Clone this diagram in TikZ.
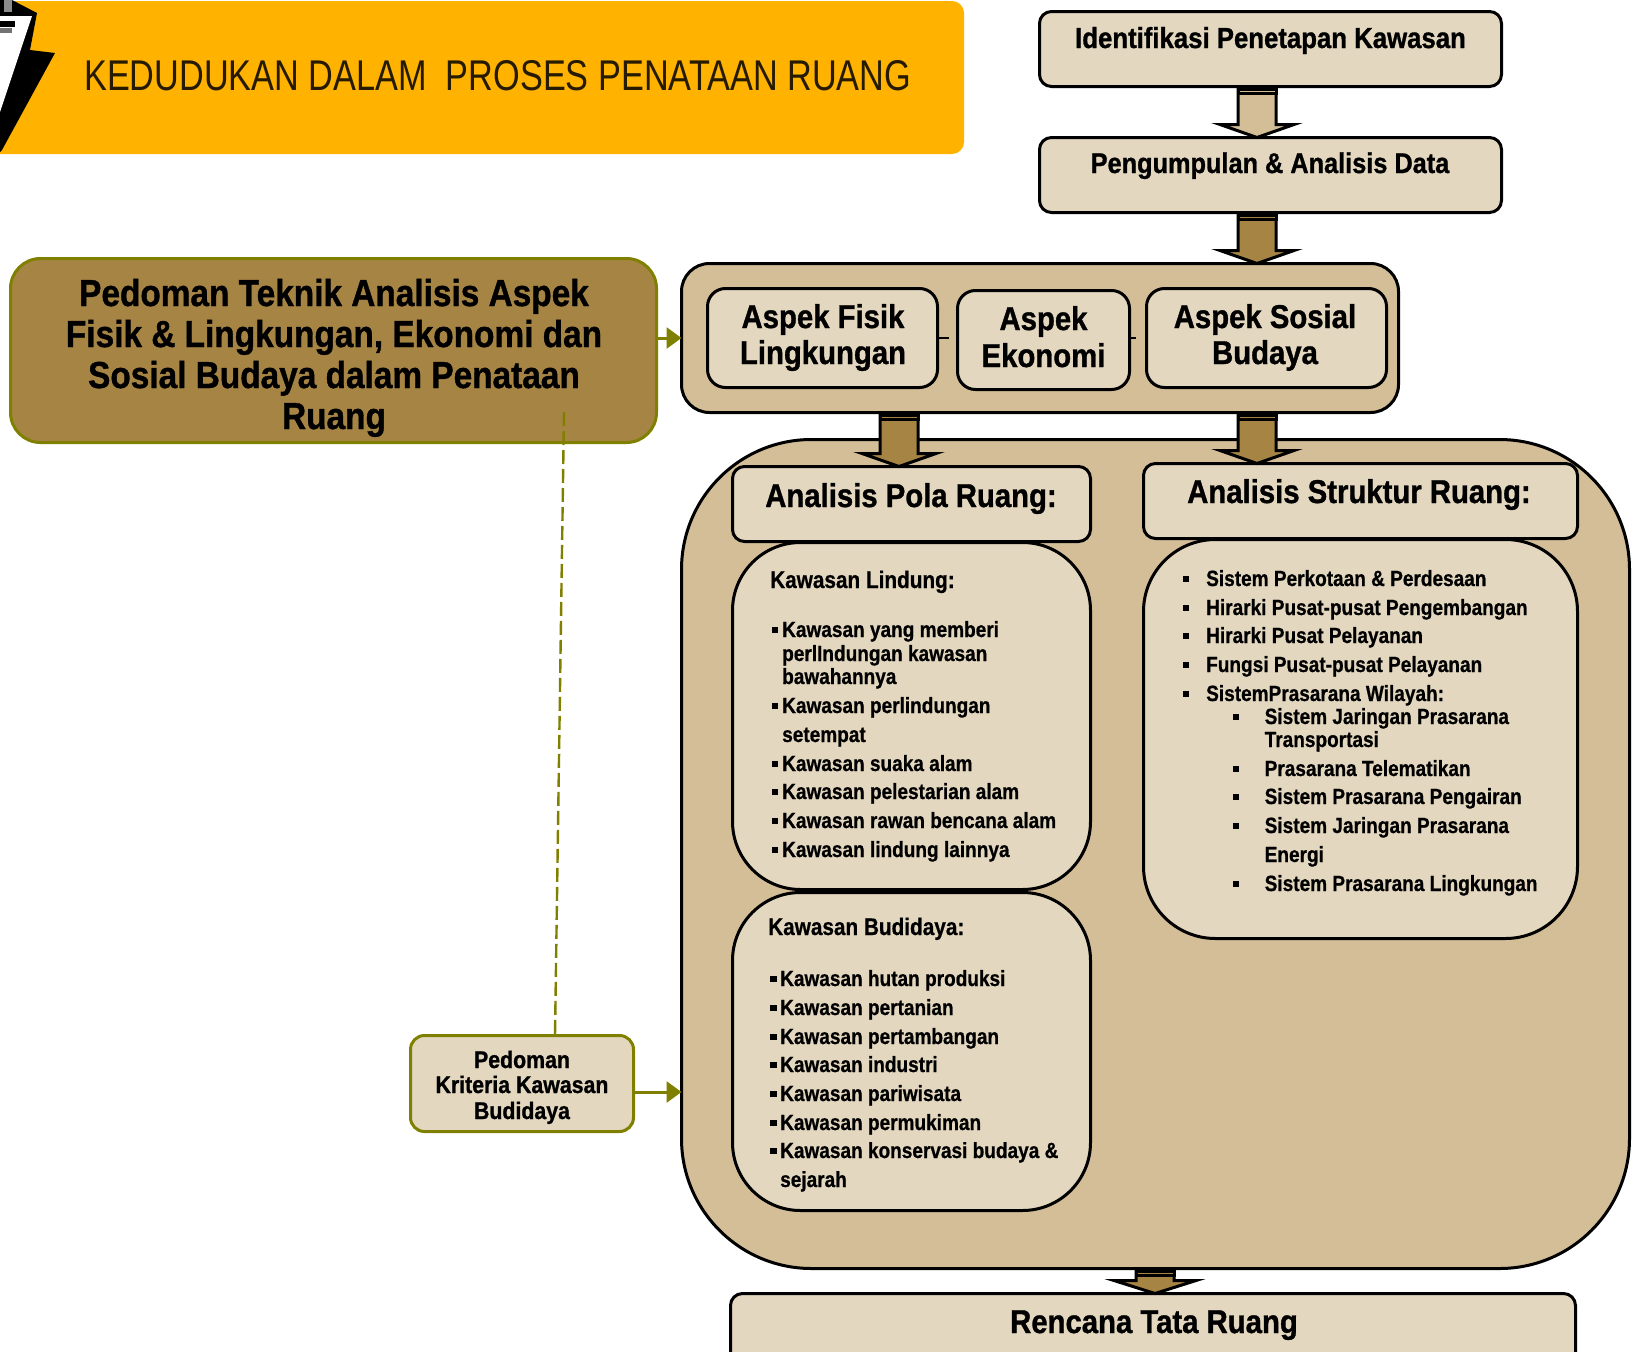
\documentclass[tikz,border=0pt]{standalone}
\usepackage{fontspec}
\usetikzlibrary{arrows.meta,calc}
\newfontfamily\hvy[FakeStretch=0.888,FakeBold=1.0]{Liberation Sans Bold}
\newfontfamily\lst[FakeStretch=0.865,FakeBold=0.7]{Liberation Sans Bold}
\newfontfamily\thn[FakeStretch=0.797]{Liberation Sans}
\definecolor{tanfill}{HTML}{D4BE98}
\definecolor{paper}{HTML}{E3D7BF}
\definecolor{brownfill}{HTML}{A68444}
\definecolor{olive}{HTML}{808000}
\definecolor{amber}{HTML}{FFB300}
\tikzset{
 x=1pt,y=-1pt,
 boxa/.style={draw=black,line width=3pt,fill=paper,inner sep=0pt,outer sep=0pt},
 boxo/.style={draw=olive,line width=3pt,inner sep=0pt,outer sep=0pt},
 head/.style={anchor=base,inner sep=0pt,font=\hvy},
 listtxt/.style={anchor=base west,inner sep=0pt,font=\lst\fontsize{22}{22}\selectfont},
 sq/.style={fill=black,inner sep=0pt,minimum size=6.5pt},
 arrowline/.style={draw=black,line width=3pt,miter limit=12},
 oarrow/.style={draw=olive,line width=3pt,-{Triangle[length=15pt,width=21pt]}},
}
% box by its corners
\newcommand\mybox[7][]{%
 \pgfmathsetmacro\bw{#5-#3-3}\pgfmathsetmacro\bh{#6-#4-3}%
 \pgfmathsetmacro\bcx{(#5+#3)/2}\pgfmathsetmacro\bcy{(#6+#4)/2}%
 \node[#7,#1,minimum width=\bw pt,minimum height=\bh pt] (#2) at (\bcx,\bcy) {};}
\newcommand\blockarrow[6]{%
 \coordinate (ss) at (#3,0 |- #1.south);
 \coordinate (tt) at (#3,0 |- #2.north);
 \draw[arrowline,fill=#4] ($(ss)+(-#5,0)$) -- ($(tt)+(-#5,-13)$) -- ($(tt)+(-#6,-13)$) -- (tt)
   -- ($(tt)+(#6,-13)$) -- ($(tt)+(#5,-13)$) -- ($(ss)+(#5,0)$) -- cycle;
 \fill[black] ($(ss)+(-#5-1.5,0)$) rectangle ($(ss)+(#5+1.5,8)$);
 \fill[#4] ($(ss)+(-#5+1.5,4)$) rectangle ($(ss)+(#5-1.5,5)$);
}
\newcommand\tline[4]{\node[listtxt] (#1) at (#2,#3) {#4};}
\newcommand\tbul[5]{\node[sq] (#1b) at (#2,#4-7) {};\node[listtxt] (#1) at (#3,#4) {#5};}
\newcommand\headtxt[5]{\node[head,font=\hvy\fontsize{#4}{#4}\selectfont] (#1) at (#2,#3) {#5};}
\begin{document}
\begin{tikzpicture}
\useasboundingbox (0,0) rectangle (1636,1352);
\clip (0,0) rectangle (1636,1352);
% banner
\fill[amber,rounded corners=12pt] (-30,1) rectangle (964,154);
\fill[black] (0,0) -- (12,0) -- (37,13) -- (30,50) -- (55,53) -- (2,150) -- (0,152) -- cycle;
\fill[white] (0,16) -- (32,16) -- (0,112) -- cycle;
\fill[black] (0,21) rectangle (15,27);
\fill[black!55] (0,28) rectangle (12,33);
\fill[black!45] (4,0) -- (12,0) -- (12,12) -- (4,12) -- cycle;
\node[anchor=base west,inner sep=0pt,font=\thn\fontsize{43}{43}\selectfont,text=black!85!amber] (bannertext) at (84,90.5) {KEDUDUKAN DALAM\ \ PROSES PENATAAN RUANG};
% top boxes
\mybox[rounded corners=12pt]{ident}{1038}{10}{1503}{88}{boxa}
\mybox[rounded corners=12pt]{kumpul}{1038}{136}{1503}{214}{boxa}
\headtxt{identt}{1270.5}{48}{29}{Identifikasi Penetapan Kawasan}
\headtxt{kumpult}{1270}{173}{28.5}{Pengumpulan \& Analisis Data}
% guideline box
\mybox[rounded corners=30pt,fill=brownfill]{ped}{9}{257}{658}{444}{boxo}
\headtxt{ped1}{334}{306}{37.6}{Pedoman Teknik Analisis Aspek}
\headtxt{ped2}{334}{347}{37.6}{Fisik \& Lingkungan, Ekonomi dan}
\headtxt{ped3}{334}{388}{37.6}{Sosial Budaya dalam Penataan}
\headtxt{ped4}{334}{429}{37.6}{Ruang}
% aspects
\mybox[rounded corners=28pt,fill=tanfill]{outer}{680}{262}{1400}{414}{boxa}
\mybox[rounded corners=18pt]{fisik}{706}{287}{939}{389}{boxa}
\mybox[rounded corners=18pt]{ekon}{956}{289}{1131}{391}{boxa}
\mybox[rounded corners=18pt]{sosial}{1145}{287}{1388}{389}{boxa}
\headtxt{fisik1}{823}{328}{33}{Aspek Fisik}
\headtxt{fisik2}{823}{364}{33}{Lingkungan}
\headtxt{ekon1}{1043.5}{330}{33}{Aspek}
\headtxt{ekon2}{1043.5}{367}{33}{Ekonomi}
\headtxt{sos1}{1265}{328}{33}{Aspek Sosial}
\headtxt{sos2}{1265}{364}{33}{Budaya}
\coordinate (stuba) at (949,338);
\coordinate (stubb) at (1136,338);
\draw[black,line width=2pt] (fisik.east) -- (stuba);
\draw[black,line width=2pt] (ekon.east |- stubb) -- (stubb);
% big lower panel
\mybox[rounded corners=130pt,fill=tanfill]{panel}{680}{438}{1631}{1270}{boxa}
\mybox[rounded corners=12pt]{pola}{731}{465}{1092}{543}{boxa}
\mybox[rounded corners=12pt]{struk}{1142}{462}{1579}{540}{boxa}
\mybox[rounded corners=68pt]{lind}{731}{541}{1092}{891}{boxa}
\mybox[rounded corners=72pt]{sbody}{1142}{538}{1579}{940}{boxa}
\mybox[rounded corners=68pt]{budi}{731}{891}{1092}{1212}{boxa}
\mybox[rounded corners=12pt]{renc}{729}{1292}{1577}{1400}{boxa}
\headtxt{polat}{911}{507}{33}{Analisis Pola Ruang:}
\headtxt{strukt}{1359}{503}{33}{Analisis Struktur Ruang:}
\headtxt{renct}{1154}{1333}{33}{Rencana Tata Ruang}
% block arrows
\blockarrow{ident}{kumpul}{1257}{tanfill}{19}{37}
\blockarrow{kumpul}{outer}{1257}{brownfill}{19}{37}
\blockarrow{outer}{struk}{1257}{brownfill}{19}{37}
\blockarrow{outer}{pola}{899}{brownfill}{19}{37}
\blockarrow{panel}{renc}{1155}{brownfill}{19}{41}
% Lindung list
\tline{lt}{770}{588}{\fontsize{24}{24}\selectfont Kawasan Lindung:}
\tbul{l1}{775}{782}{637}{Kawasan yang memberi}
\tline{l1a}{782}{661}{perlIndungan kawasan}
\tline{l1b}{782}{684}{bawahannya}
\tbul{l2}{775}{782}{713}{Kawasan perlindungan}
\tline{l2a}{782}{742}{setempat}
\tbul{l3}{775}{782}{771}{Kawasan suaka alam}
\tbul{l4}{775}{782}{799}{Kawasan pelestarian alam}
\tbul{l5}{775}{782}{828}{Kawasan rawan bencana alam}
\tbul{l6}{775}{782}{857}{Kawasan lindung lainnya}
% Struktur list
\tbul{s1}{1186}{1206}{586}{Sistem Perkotaan \& Perdesaan}
\tbul{s2}{1186}{1206}{615}{Hirarki Pusat-pusat Pengembangan}
\tbul{s3}{1186}{1206}{643}{Hirarki Pusat Pelayanan}
\tbul{s4}{1186}{1206}{672}{Fungsi Pusat-pusat Pelayanan}
\tbul{s5}{1186}{1206}{701}{SistemPrasarana Wilayah:}
\tbul{s6}{1236}{1264.5}{724}{Sistem Jaringan Prasarana}
\tline{s6a}{1264.5}{747}{Transportasi}
\tbul{s7}{1236}{1264.5}{776}{Prasarana Telematikan}
\tbul{s8}{1236}{1264.5}{804}{Sistem Prasarana Pengairan}
\tbul{s9}{1236}{1264.5}{833}{Sistem Jaringan Prasarana}
\tline{s9a}{1264.5}{862}{Energi}
\tbul{s10}{1236}{1264.5}{891}{Sistem Prasarana Lingkungan}
% Budidaya list
\tline{bt}{768}{935}{\fontsize{24}{24}\selectfont Kawasan Budidaya:}
\tbul{b1}{773.5}{780}{986}{Kawasan hutan produksi}
\tbul{b2}{773.5}{780}{1015}{Kawasan pertanian}
\tbul{b3}{773.5}{780}{1044}{Kawasan pertambangan}
\tbul{b4}{773.5}{780}{1072}{Kawasan industri}
\tbul{b5}{773.5}{780}{1101}{Kawasan pariwisata}
\tbul{b6}{773.5}{780}{1130}{Kawasan permukiman}
\tbul{b7}{773.5}{780}{1158}{Kawasan konservasi budaya \&}
\tline{b7a}{780}{1187}{sejarah}
% criteria box and olive links
\coordinate (dashtop) at (564,412);
\mybox[rounded corners=14pt]{krit}{409}{1034}{635}{1133}{boxo,fill=paper}
\draw[olive,line width=2.4pt,dash pattern=on 14pt off 5pt] (dashtop) -- (555,0 |- krit.north);
\headtxt{krit1}{522}{1068}{24}{Pedoman}
\headtxt{krit2}{522}{1093}{24}{Kriteria Kawasan}
\headtxt{krit3}{522}{1119}{24}{Budidaya}
\draw[oarrow] (ped.east |- outer.west) -- (outer.west);
\coordinate (lvl) at (0,1092);
\draw[oarrow] (krit.east |- lvl) -- (panel.west |- lvl);
\end{tikzpicture}
\end{document}
